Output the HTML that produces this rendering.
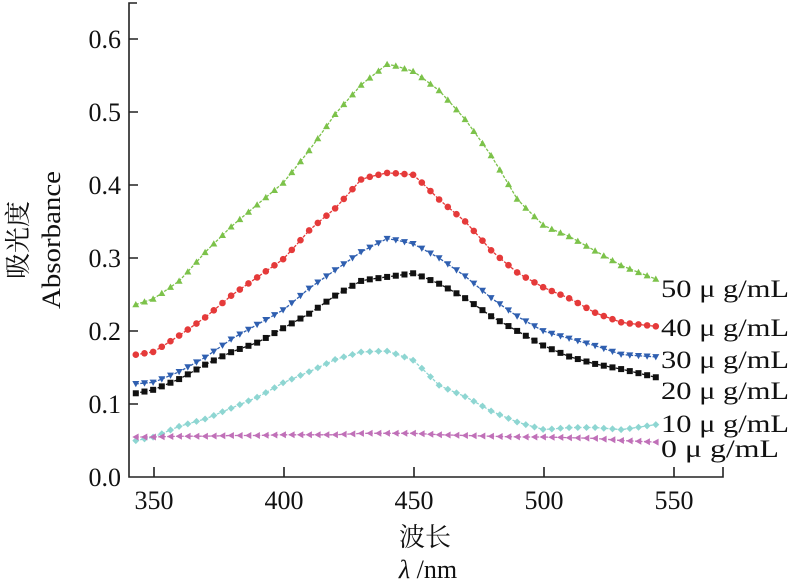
<!DOCTYPE html>
<html><head><meta charset="utf-8"><style>
body{margin:0;background:#fff;width:796px;height:584px;overflow:hidden}
svg{display:block}
</style></head><body>
<svg id="s" width="796" height="584" xmlns="http://www.w3.org/2000/svg" fill="#111">
<g stroke="#222" stroke-width="1.6" fill="none">
<path d="M137,3 H129 V477 H723 V467"/>
<path d="M129,39 h9 M129,112 h9 M129,185 h9 M129,258 h9 M129,331 h9 M129,404 h9"/>
<path d="M154,477 v-10 M284,477 v-10 M414,477 v-10 M544,477 v-10 M674,477 v-10"/>
</g>
<g font-size="26" text-anchor="end" style="font-family:'Liberation Serif',serif">
<text x="121" y="48">0.6</text><text x="121" y="121">0.5</text><text x="121" y="194">0.4</text>
<text x="121" y="267">0.3</text><text x="121" y="340">0.2</text><text x="121" y="413">0.1</text><text x="121" y="486">0.0</text>
</g>
<g font-size="26" text-anchor="middle" style="font-family:'Liberation Serif',serif">
<text x="154" y="509">350</text><text x="284" y="509">400</text><text x="414" y="509">450</text><text x="544" y="509">500</text><text x="674" y="509">550</text>
<text x="428" y="578"><tspan font-style="italic">λ</tspan> /nm</text>
</g>
<text x="425" y="546" font-size="26" text-anchor="middle" style="font-family:'Noto Serif CJK SC',serif">波长</text>
<text font-size="26" text-anchor="middle" transform="translate(27,240) rotate(-90)" style="font-family:'Noto Serif CJK SC',serif">吸光度</text>
<text font-size="26" text-anchor="middle" transform="translate(60,240) rotate(-90)" style="font-family:'Liberation Serif',serif" textLength="138" lengthAdjust="spacingAndGlyphs">Absorbance</text>
<g font-size="25" style="font-family:'Liberation Serif',serif">
<text x="661" y="297" textLength="128" lengthAdjust="spacingAndGlyphs">50 μ g/mL</text>
<text x="661" y="336" textLength="128" lengthAdjust="spacingAndGlyphs">40 μ g/mL</text>
<text x="661" y="368" textLength="128" lengthAdjust="spacingAndGlyphs">30 μ g/mL</text>
<text x="661" y="399" textLength="128" lengthAdjust="spacingAndGlyphs">20 μ g/mL</text>
<text x="661" y="432" textLength="128" lengthAdjust="spacingAndGlyphs">10 μ g/mL</text>
<text x="661" y="457" textLength="118" lengthAdjust="spacingAndGlyphs">0 μ g/mL</text>
</g>
<g id="d"></g>
</svg>
<script>
var L=[343,350,360,370,380,390,400,410,420,430,440,450,460,470,480,490,500,510,520,530,543];
var S=[
{c:'#7cc24a',m:'up',v:[.237,.245,.27,.31,.345,.375,.405,.45,.5,.54,.568,.557,.53,.49,.44,.38,.345,.33,.31,.29,.272]},
{c:'#e53a3a',m:'ci',v:[.168,.172,.195,.22,.25,.275,.3,.34,.37,.41,.418,.415,.38,.35,.31,.28,.26,.245,.225,.212,.207]},
{c:'#2f5fb0',m:'dn',v:[.128,.13,.145,.165,.19,.21,.23,.26,.285,.31,.328,.32,.3,.275,.245,.22,.2,.19,.18,.168,.165]},
{c:'#111',m:'sq',v:[.115,.12,.135,.155,.172,.185,.205,.225,.25,.27,.275,.28,.265,.245,.22,.2,.18,.165,.155,.148,.137]},
{c:'#8ed6d2',m:'di',v:[.05,.055,.07,.08,.095,.11,.13,.145,.162,.172,.173,.16,.125,.11,.09,.075,.065,.068,.068,.065,.072]},
{c:'#c070b8',m:'lt',v:[.055,.055,.056,.056,.057,.057,.058,.058,.058,.06,.06,.06,.058,.057,.056,.055,.055,.054,.053,.05,.048]}];
function interp(a,l){for(var i=0;i<L.length-1;i++){if(l<=L[i+1]){var t=(l-L[i])/(L[i+1]-L[i]);return a[i]+(a[i+1]-a[i])*t;}}return a[a.length-1];}
var h='';
S.forEach(function(s){var pts=[];for(var k=0;k<=60;k++){var l=343+k*200/60;var x=154+(l-350)*2.6,y=477-interp(s.v,l)*728;pts.push([x,y]);}
h+='<polyline fill="none" stroke="'+s.c+'" stroke-width="1.3" stroke-dasharray="3,1.5" points="'+pts.map(p=>p[0].toFixed(1)+','+p[1].toFixed(1)).join(' ')+'"/>';
pts.forEach(function(p){var x=p[0],y=p[1],r=3.5,P;
if(s.m=='ci')h+='<circle cx="'+x+'" cy="'+y+'" r="3.3" fill="'+s.c+'"/>';
else if(s.m=='sq')h+='<rect x="'+(x-3)+'" y="'+(y-3)+'" width="6" height="6" fill="'+s.c+'"/>';
else{if(s.m=='up')P=[[x,y-r],[x+r,y+r*.8],[x-r,y+r*.8]];
if(s.m=='dn')P=[[x,y+r],[x+r,y-r*.8],[x-r,y-r*.8]];
if(s.m=='lt')P=[[x-r,y],[x+r*.8,y-r],[x+r*.8,y+r]];
if(s.m=='di')P=[[x,y-r],[x+r,y],[x,y+r],[x-r,y]];
h+='<polygon fill="'+s.c+'" points="'+P.map(q=>q[0].toFixed(1)+','+q[1].toFixed(1)).join(' ')+'"/>';}});});
document.getElementById('d').innerHTML=h;
</script>
</body></html>
